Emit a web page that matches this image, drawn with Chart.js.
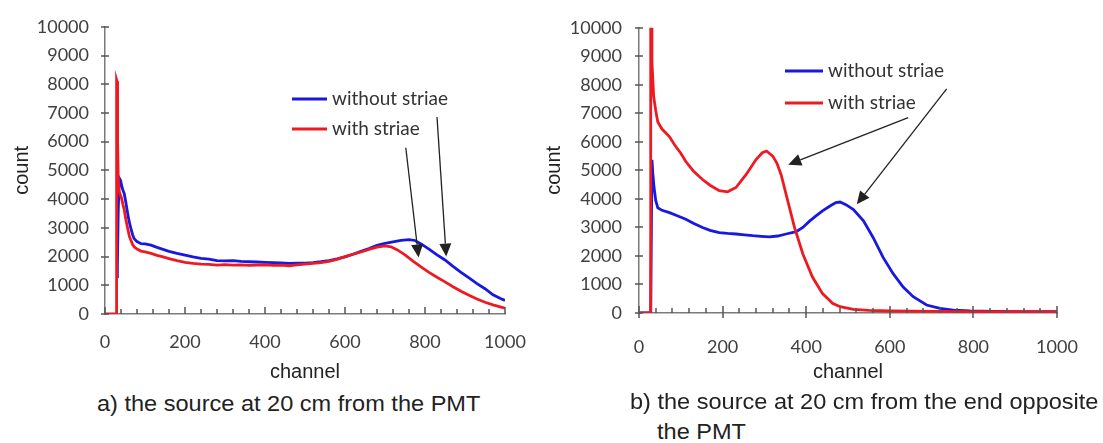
<!DOCTYPE html>
<html>
<head>
<meta charset="utf-8">
<script src="https://cdn.jsdelivr.net/npm/chart.js@4.4.0/dist/chart.umd.min.js"></script>
<style>
  body { margin: 0; background: #fff; width: 1103px; height: 443px; overflow: hidden; position: relative; font-family: "Liberation Sans", Arial, sans-serif; }
  canvas { position: absolute; top: 0; }
  #chartA { left: 0; }
  #chartB { left: 540px; }
  .cap { position: absolute; font-size: 22px; color: #222; white-space: nowrap; line-height: 1; transform: scaleX(1.07); transform-origin: 0 0; }
</style>
</head>
<body>
<canvas id="chartA" width="545" height="390"></canvas>
<canvas id="chartB" width="563" height="390"></canvas>
<div class="cap" style="left:97px;top:393px">a) the source at 20 cm from the PMT</div>
<div class="cap" style="left:630px;top:391px">b) the source at 20 cm from the end opposite</div>
<div class="cap" style="left:657px;top:421px">the PMT</div>
<script>
// axis ticks
const yTicks = [0, 1000, 2000, 3000, 4000, 5000, 6000, 7000, 8000, 9000, 10000];
const xTicks = [0, 200, 400, 600, 800, 1000];
const xMinorTicks = [40, 80, 120, 160, 240, 280, 320, 360, 440, 480, 520, 560, 640, 680, 720, 760, 840, 880, 920, 960];

// a) source at 20 cm from the PMT
const aRedCh = [0, 28, 29, 30, 31, 32, 33, 35, 38, 41, 45, 48, 52, 57, 61, 65, 69, 73, 80, 90, 100, 115, 130, 145, 160, 180, 200, 220, 240, 260, 280, 300, 320, 340, 360, 380, 400, 420, 440, 460, 480, 500, 520, 540, 560, 580, 600, 620, 640, 660, 680, 700, 715, 730, 750, 770, 790, 810, 830, 850, 870, 890, 910, 930, 950, 970, 990, 1000];
const aRedCount = [0, 0, 8150, 8100, 7700, 6000, 4800, 4300, 4150, 4050, 3800, 3640, 3300, 2960, 2700, 2560, 2420, 2340, 2260, 2190, 2160, 2110, 2040, 1990, 1930, 1860, 1800, 1760, 1740, 1730, 1700, 1720, 1700, 1710, 1690, 1700, 1710, 1690, 1700, 1680, 1710, 1740, 1760, 1790, 1830, 1900, 2000, 2080, 2160, 2250, 2330, 2370, 2340, 2240, 2060, 1840, 1640, 1450, 1280, 1120, 950, 790, 650, 520, 410, 320, 240, 200];
const aBlueCh = [30, 31, 33, 35, 37, 39, 42, 45, 48, 52, 55, 60, 65, 69, 73, 80, 90, 100, 115, 130, 145, 160, 180, 200, 220, 240, 260, 280, 300, 320, 340, 360, 380, 400, 420, 440, 460, 480, 500, 520, 540, 560, 580, 600, 620, 640, 660, 680, 700, 720, 740, 760, 775, 790, 810, 830, 850, 870, 890, 910, 930, 950, 970, 990, 1000];
const aBlueCount = [1300, 1700, 3500, 4500, 4700, 4650, 4450, 4300, 4200, 3900, 3640, 3250, 2960, 2760, 2620, 2520, 2450, 2440, 2400, 2320, 2250, 2180, 2110, 2050, 1990, 1940, 1910, 1860, 1850, 1860, 1830, 1820, 1810, 1800, 1790, 1780, 1760, 1770, 1770, 1790, 1820, 1860, 1920, 1990, 2080, 2180, 2280, 2390, 2460, 2510, 2560, 2590, 2560, 2440, 2260, 2060, 1880, 1660, 1450, 1260, 1060, 880, 670, 530, 475];

// b) source at 20 cm from the end opposite the PMT
const bRedCh = [0, 27, 28, 30, 31, 33, 35, 37, 40, 45, 55, 65, 73, 85, 100, 112, 130, 152, 170, 192, 212, 232, 256, 280, 295, 305, 320, 330, 340, 356, 372, 392, 415, 439, 463, 481, 513, 550, 600, 700, 800, 900, 1000];
const bRedCount = [0, 0, 10000, 10000, 8800, 8200, 7600, 7400, 7100, 6700, 6450, 6300, 6180, 5900, 5600, 5310, 4980, 4680, 4480, 4290, 4250, 4400, 4850, 5380, 5620, 5680, 5500, 5250, 4850, 3920, 3000, 2070, 1260, 680, 340, 220, 130, 90, 70, 55, 50, 45, 40];
const bBlueCh = [0, 28, 31, 33, 36, 40, 45, 55, 73, 90, 112, 130, 152, 170, 192, 212, 232, 252, 272, 292, 312, 332, 352, 376, 392, 408, 425, 439, 457, 471, 481, 495, 513, 537, 560, 584, 608, 632, 656, 688, 720, 752, 792, 850, 900, 1000];
const bBlueCount = [0, 0, 5370, 4900, 4400, 3950, 3690, 3600, 3520, 3420, 3290, 3150, 3000, 2900, 2820, 2790, 2770, 2740, 2710, 2690, 2670, 2700, 2770, 2850, 3000, 3220, 3420, 3580, 3750, 3870, 3890, 3800, 3630, 3230, 2650, 1950, 1380, 910, 570, 280, 160, 100, 70, 55, 50, 45];

// annotation arrows, [channel, count] from -> to
const aArrows = [[[752, 5790], [784, 1970]], [[830, 6860], [853, 2000]]];
const bArrows = [[[644, 6850], [357, 5200]], [[736, 7860], [521, 3810]]];

const RED = '#ee1a22';
const BLUE = '#1818e0';
const AXIS = '#7a7a7a';
const numFont = { family: 'Lato', size: 18 };
const titleFont = { family: 'Liberation Sans', size: 20 };

const pts = (ch, counts) => ch.map((x, i) => ({ x: x, y: counts[i] }));

// tick marks, legend and arrows
const decorPlugin = {
  id: 'decor',
  afterDraw(chart, args, opts) {
    const ctx = chart.ctx;
    const xs = chart.scales.x, ys = chart.scales.y;
    const area = chart.chartArea;
    ctx.save();
    ctx.strokeStyle = '#555';
    ctx.lineWidth = 1.5;
    ctx.beginPath();
    yTicks.forEach(v => {
      const y = Math.round(ys.getPixelForValue(v));
      ctx.moveTo(area.left - 4, y); ctx.lineTo(area.left + 4, y);
    });
    xMinorTicks.forEach(v => {
      const x = Math.round(xs.getPixelForValue(v));
      ctx.moveTo(x, area.bottom); ctx.lineTo(x, area.bottom - 5);
    });
    xTicks.forEach(v => {
      const x = Math.round(xs.getPixelForValue(v));
      ctx.moveTo(x, area.bottom + opts.majorDown); ctx.lineTo(x, area.bottom - 7);
    });
    ctx.stroke();

    // legend
    const lg = opts.legend;
    ctx.font = '19px Lato';
    ctx.textBaseline = 'middle';
    ctx.fillStyle = '#333';
    [[BLUE, 'without striae', lg.y1], [RED, 'with striae', lg.y2]].forEach(([c, t, y]) => {
      ctx.strokeStyle = c;
      ctx.lineWidth = 3;
      ctx.beginPath();
      ctx.moveTo(lg.x0, y); ctx.lineTo(lg.x1, y);
      ctx.stroke();
      ctx.fillText(t, lg.tx, y);
    });

    // arrows
    ctx.strokeStyle = '#222';
    ctx.fillStyle = '#222';
    ctx.lineWidth = 1.3;
    opts.arrows.forEach(([from, to]) => {
      const x0 = xs.getPixelForValue(from[0]), y0 = ys.getPixelForValue(from[1]);
      const x1 = xs.getPixelForValue(to[0]), y1 = ys.getPixelForValue(to[1]);
      const ang = Math.atan2(y1 - y0, x1 - x0);
      const hl = 13, hw = 6;
      const bx = x1 - hl * Math.cos(ang), by = y1 - hl * Math.sin(ang);
      ctx.beginPath();
      ctx.moveTo(x0, y0); ctx.lineTo(bx, by);
      ctx.stroke();
      ctx.beginPath();
      ctx.moveTo(x1, y1);
      ctx.lineTo(bx + hw * Math.sin(ang), by - hw * Math.cos(ang));
      ctx.lineTo(bx - hw * Math.sin(ang), by + hw * Math.cos(ang));
      ctx.closePath();
      ctx.fill();
    });
    ctx.restore();
  }
};

function makeChart(id, redPts, bluePts, o) {
  return new Chart(document.getElementById(id), {
    type: 'line',
    data: {
      datasets: [
        { label: 'with striae', data: redPts, borderColor: RED, borderWidth: 2.8, pointRadius: 0, tension: 0 },
        { label: 'without striae', data: bluePts, borderColor: BLUE, borderWidth: 2.8, pointRadius: 0, tension: 0 }
      ]
    },
    options: {
      responsive: false,
      animation: false,
      layout: { padding: { top: o.top, right: o.right, bottom: 0, left: 0 } },
      scales: {
        x: {
          type: 'linear', min: 0, max: 1000,
          afterBuildTicks: s => { s.ticks = xTicks.map(v => ({ value: v })); },
          afterFit: s => { s.height = o.xHeight; },
          grid: { display: false, drawTicks: false },
          border: { display: true, color: AXIS, width: 1.5 },
          ticks: { font: numFont, color: '#404040', padding: o.xPad, maxRotation: 0, autoSkip: false, callback: v => String(v) },
          title: { display: true, text: 'channel', font: titleFont, color: '#222', padding: { top: 0, bottom: 6 } }
        },
        y: {
          min: 0, max: 10000,
          afterBuildTicks: s => { s.ticks = yTicks.map(v => ({ value: v })); },
          afterFit: s => { s.width = o.yWidth; },
          grid: { display: false, drawTicks: false },
          border: { display: true, color: AXIS, width: 1.5 },
          ticks: { font: numFont, color: '#404040', padding: o.yPad, callback: v => String(v) },
          title: { display: true, text: 'count', font: titleFont, color: '#222', padding: { top: o.titlePad, bottom: 0 } }
        }
      },
      plugins: {
        legend: { display: false },
        tooltip: { enabled: false },
        decor: { majorDown: o.majorDown, legend: o.legend, arrows: o.arrows }
      }
    },
    plugins: [decorPlugin]
  });
}

makeChart('chartA', pts(aRedCh, aRedCount), pts(aBlueCh, aBlueCount), {
  top: 19, right: 40, xHeight: 76, yWidth: 105, xPad: 17, yPad: 16, titlePad: 10, majorDown: 0,
  legend: { x0: 292, x1: 327, tx: 332, y1: 99, y2: 129 },
  arrows: aArrows
});

makeChart('chartB', pts(bRedCh, bRedCount), pts(bBlueCh, bBlueCount), {
  top: 25, right: 46, xHeight: 77, yWidth: 99, xPad: 23, yPad: 17, titlePad: 2, majorDown: 5,
  legend: { x0: 245, x1: 283, tx: 288, y1: 71, y2: 103 },
  arrows: bArrows
});
</script>
</body>
</html>
